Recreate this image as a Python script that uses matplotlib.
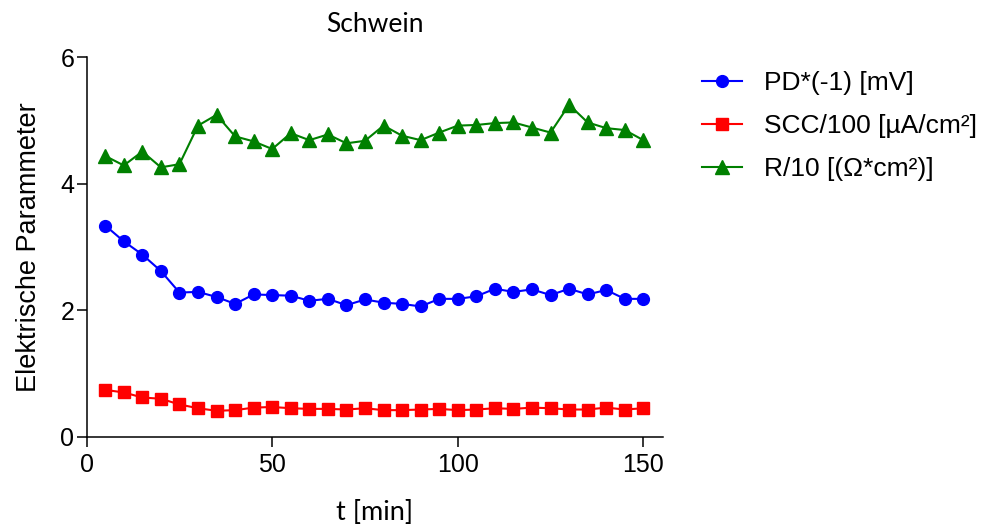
import matplotlib
matplotlib.use('Agg')
import matplotlib.pyplot as plt
import numpy as np

# Zeitpunkte in Minuten
t_min = list(range(5, 155, 5))

# PD*(-1) [mV]
pd_werte = [3.34, 3.09, 2.88, 2.62, 2.28, 2.29, 2.21, 2.10, 2.25, 2.24,
            2.23, 2.15, 2.18, 2.08, 2.17, 2.12, 2.10, 2.06, 2.18, 2.18,
            2.22, 2.34, 2.29, 2.33, 2.24, 2.34, 2.25, 2.32, 2.18, 2.18]

# SCC/100 [µA/cm²]
scc_werte = [0.74, 0.70, 0.62, 0.60, 0.51, 0.45, 0.41, 0.42, 0.46, 0.47,
             0.45, 0.44, 0.44, 0.43, 0.45, 0.42, 0.42, 0.43, 0.44, 0.42,
             0.43, 0.45, 0.44, 0.46, 0.45, 0.43, 0.43, 0.46, 0.43, 0.45]

# R/10 [(Ω*cm²)]
r_werte = [4.44, 4.29, 4.51, 4.26, 4.31, 4.92, 5.09, 4.75, 4.67, 4.55,
           4.80, 4.69, 4.78, 4.64, 4.68, 4.92, 4.76, 4.69, 4.81, 4.92,
           4.93, 4.96, 4.97, 4.89, 4.81, 5.25, 4.97, 4.88, 4.85, 4.69]

x_ticks = [0, 50, 100, 150]
y_ticks = [0, 2, 4, 6]

plt.rcParams['font.family'] = ['Liberation Sans', 'DejaVu Sans']

fig = plt.figure(figsize=(9.86, 5.24), dpi=100)
ax = fig.add_axes([0.0879, 0.1666, 0.5845, 0.724])

ax.plot(t_min, pd_werte, color='#0000FF', marker='o', markersize=8.5,
        linewidth=1.5, label='PD*(-1) [mV]')
ax.plot(t_min, scc_werte, color='#FF0000', marker='s', markersize=8,
        linewidth=1.5, label='SCC/100 [µA/cm²]')
ax.plot(t_min, r_werte, color='#008000', marker='^', markersize=9.5,
        linewidth=1.5, label='R/10 [(Ω*cm²)]')

ax.set_xlim(0, 155.3)
ax.set_ylim(0, 6)
ax.set_xticks(x_ticks)
ax.set_yticks(y_ticks)
ax.spines['top'].set_visible(False)
ax.spines['right'].set_visible(False)
ax.spines['left'].set_linewidth(1.1)
ax.spines['bottom'].set_linewidth(1.1)
ax.tick_params(axis='both', direction='out', length=7, width=1.1, labelsize=18)
ax.tick_params(axis='x', pad=5)
ax.tick_params(axis='y', pad=2)

ax.set_xlabel('t [min]', fontsize=19.5, family=['Lato', 'DejaVu Sans'], labelpad=16)
ax.set_ylabel('Elektrische Parammeter', fontsize=19.5)
ax.yaxis.set_label_coords(-0.078, 0.5)
ax.set_title('Schwein', fontsize=19, family=['Lato', 'DejaVu Sans'], pad=18)

ax.legend(loc='center left', bbox_to_anchor=(702 / 986, 1 - 126 / 524),
          bbox_transform=fig.transFigure, frameon=False, fontsize=19,
          handlelength=1.5, handletextpad=0.85, labelspacing=0.72,
          borderpad=0, borderaxespad=0)

fig.savefig('out.png', dpi=100)
